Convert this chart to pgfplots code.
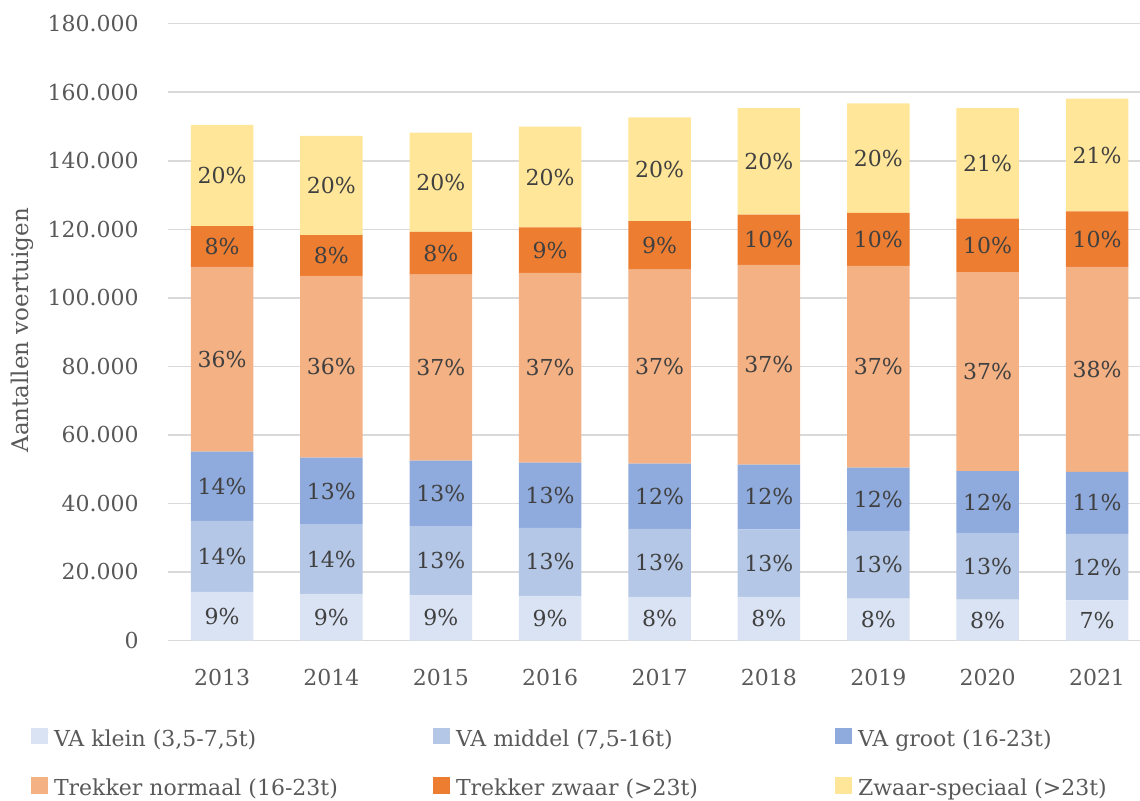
\documentclass[border=0pt]{standalone}
\usepackage{fontspec}
\setmainfont{DejaVu Serif}
\usepackage{pgfplots}
\usepackage{pgfplotstable}
\pgfplotsset{compat=1.18}

\definecolor{cklein}{HTML}{DAE3F3}
\definecolor{cmiddel}{HTML}{B4C7E7}
\definecolor{cgroot}{HTML}{8FAADC}
\definecolor{cnormaal}{HTML}{F4B183}
\definecolor{czwaar}{HTML}{ED7D31}
\definecolor{cspeciaal}{HTML}{FFE699}
\definecolor{txt}{HTML}{595959}
\definecolor{lbl}{HTML}{404040}
\definecolor{gridc}{HTML}{D9D9D9}

% aantallen per categorie, plus het afgeronde aandeel (%) zoals in de figuur
\pgfplotstableread{
x klein middel groot normaal zwaar speciaal pk pm pg pn pz ps
0 14160 20730 20230 53930 11850 29600 9 14 14 36 8 20
1 13580 20220 19570 53030 11900 29000 9 14 13 36 8 20
2 13280 19950 19270 54300 12470 28910 9 13 13 37 8 20
3 12990 19860 19060 55390 13230 29400 9 13 13 37 9 20
4 12700 19850 19070 56640 14130 30250 8 13 12 37 9 20
5 12700 19760 18870 58300 14690 31070 8 13 12 37 10 20
6 12210 19760 18480 58890 15480 31910 8 13 12 37 10 20
7 11910 19480 18010 58100 15650 32240 8 13 12 37 10 21
8 11740 19360 18100 59850 16150 32900 7 12 11 38 10 21
}\voertuigen

\pgfplotsset{
  basis/.style={
    scale only axis, width=486pt, height=308.4pt,
    xmin=-0.494, xmax=8.393, ymin=0, ymax=180000,
    at={(0,0)}, anchor=south west,
  },
}
\newcommand{\fs}{\fontsize{11}{13}\selectfont}

\begin{document}
\begin{tikzpicture}
\useasboundingbox (-84pt,-79.75pt) rectangle (486pt,320.25pt);
\begin{axis}[basis,
  ybar stacked, bar width=31.25pt,
  axis line style={draw=none}, tick style={draw=none},
  ymajorgrids, grid style={gridc, line width=0.75pt},
  ytick={0,20000,...,180000}, scaled y ticks=false,
  /pgf/number format/fixed,
  /pgf/number format/1000 sep={.},
  /pgf/number format/assume math mode=true,
  yticklabel style={font=\fs, text=txt, anchor=east, inner sep=0pt, xshift=-14.5pt},
  xtick={0,...,8},
  xticklabels={2013,2014,2015,2016,2017,2018,2019,2020,2021},
  xticklabel style={font=\fs, text=txt, anchor=center, inner sep=0pt, yshift=-18.25pt},
  ylabel={Aantallen voertuigen},
  ylabel style={font=\fontsize{11.5}{13}\selectfont, text=txt,
    at={(axis description cs:-0.1502,0.503)}, anchor=center},
  legend columns=3, legend cell align=left,
  legend style={draw=none, fill=none, font=\fs, text=txt,
    at={(axis description cs:-0.1471,-0.134)}, anchor=north west,
    nodes={inner sep=0pt}, row sep=14pt, column sep=0pt,
    /tikz/every odd column/.append style={column sep=3pt}},
  legend image code/.code={\fill[#1] (0pt,-2.5pt) rectangle (8.3pt,5.8pt);},
]
\addplot[fill=cklein, draw=none] table[x=x, y=klein] {\voertuigen};
\addlegendentry{\makebox[189.7pt][l]{VA klein (3,5-7,5t)}}
\addplot[fill=cmiddel, draw=none] table[x=x, y=middel] {\voertuigen};
\addlegendentry{\makebox[189.7pt][l]{VA middel (7,5-16t)}}
\addplot[fill=cgroot, draw=none] table[x=x, y=groot] {\voertuigen};
\addlegendentry{VA groot (16-23t)}
\addplot[fill=cnormaal, draw=none] table[x=x, y=normaal] {\voertuigen};
\addlegendentry{\makebox[189.7pt][l]{Trekker normaal (16-23t)}}
\addplot[fill=czwaar, draw=none] table[x=x, y=zwaar] {\voertuigen};
\addlegendentry{\makebox[189.7pt][l]{Trekker zwaar (>23t)}}
\addplot[fill=cspeciaal, draw=none] table[x=x, y=speciaal] {\voertuigen};
\addlegendentry{Zwaar-speciaal (>23t)}
\end{axis}

% percentages in het midden van elk segment
\begin{axis}[basis, hide axis,
  nodes near coords={\pgfplotspointmeta\%}, point meta=explicit symbolic,
  every node near coord/.append style={anchor=center, font=\fs, text=lbl, inner sep=0pt},
]
\addplot[draw=none, no markers] table[x=x, y expr=\thisrow{klein}/2, meta=pk] {\voertuigen};
\addplot[draw=none, no markers] table[x=x, y expr=\thisrow{klein}+\thisrow{middel}/2, meta=pm] {\voertuigen};
\addplot[draw=none, no markers] table[x=x, y expr=\thisrow{klein}+\thisrow{middel}+\thisrow{groot}/2, meta=pg] {\voertuigen};
\addplot[draw=none, no markers] table[x=x, y expr=\thisrow{klein}+\thisrow{middel}+\thisrow{groot}+\thisrow{normaal}/2, meta=pn] {\voertuigen};
\addplot[draw=none, no markers] table[x=x, y expr=\thisrow{klein}+\thisrow{middel}+\thisrow{groot}+\thisrow{normaal}+\thisrow{zwaar}/2, meta=pz] {\voertuigen};
\addplot[draw=none, no markers] table[x=x, y expr=\thisrow{klein}+\thisrow{middel}+\thisrow{groot}+\thisrow{normaal}+\thisrow{zwaar}+\thisrow{speciaal}/2, meta=ps] {\voertuigen};
\end{axis}
\end{tikzpicture}
\end{document}
